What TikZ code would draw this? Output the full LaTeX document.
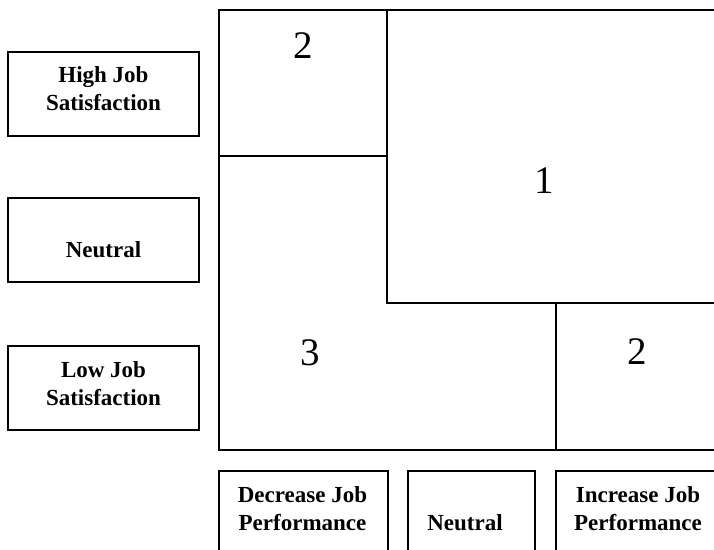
\documentclass[tikz,border=0pt]{standalone}
\usepackage{fontspec}
\setmainfont{Liberation Serif}
\begin{document}
\begin{tikzpicture}[x=1pt,y=-1pt,
  frameline/.style={line width=2pt},
  divline/.style={line width=1.2pt},
  labelbox/.style={draw,line width=1.2pt,rectangle,inner sep=0pt},
  labeltext/.style={font=\bfseries\fontsize{23}{28}\selectfont,align=center,anchor=base,inner sep=0pt},
  cellnum/.style={font=\fontsize{39}{40}\selectfont,anchor=base,inner sep=0pt}]
\useasboundingbox (0,0) rectangle (714,549);
\clip (0,0) rectangle (714,549);
\fill[white] (0,0) rectangle (714,549);

% grid corners
\coordinate (tl) at (219,10);
\coordinate (br) at (720,450);
\coordinate (midL) at (219,156);
\coordinate (midT) at (387,10);
\coordinate (midC) at (387,156);
\coordinate (stepC) at (387,303);
\coordinate (stepR) at (720,303);
\coordinate (lowT) at (556,303);
\coordinate (lowB) at (556,450);

% outer frame and cell dividers
\draw[frameline] (tl) rectangle (br);
\draw[divline] (midL) -- (midC);
\draw[divline] (midT) -- (stepC) -- (stepR);
\draw[divline] (lowT) -- (lowB);

% cell numbers
\node[cellnum] (c2a) at (303,58) {2};
\node[cellnum] (c1) at (544,193) {1};
\node[cellnum] (c3) at (310,365) {3};
\node[cellnum] (c2b) at (637,364) {2};

% satisfaction scale (left); multi-line labels are placed by their last baseline
\node[labelbox,minimum width=191pt,minimum height=84pt] (high) at (103.5,94) {};
\node[labelbox,minimum width=191pt,minimum height=84pt] (neutL) at (103.5,240) {};
\node[labelbox,minimum width=191pt,minimum height=84pt] (low) at (103.5,388) {};
\node[labeltext] (highT) at (103.5,110) {High Job\\Satisfaction};
\node[labeltext] (neutLT) at (103.5,257) {Neutral};
\node[labeltext] (lowT) at (103.5,405) {Low Job\\Satisfaction};

% performance scale (bottom)
\node[labelbox,minimum width=169pt,minimum height=100pt] (dec) at (303.5,521) {};
\node[labelbox,minimum width=127pt,minimum height=100pt] (neutB) at (471.5,521) {};
\node[labelbox,minimum width=170pt,minimum height=100pt] (inc) at (641,521) {};
\node[labeltext] (decT) at (302.5,530) {Decrease Job\\Performance};
\node[labeltext] (neutBT) at (465,530) {Neutral};
\node[labeltext] (incT) at (638,530) {Increase Job\\Performance};
\end{tikzpicture}
\end{document}
